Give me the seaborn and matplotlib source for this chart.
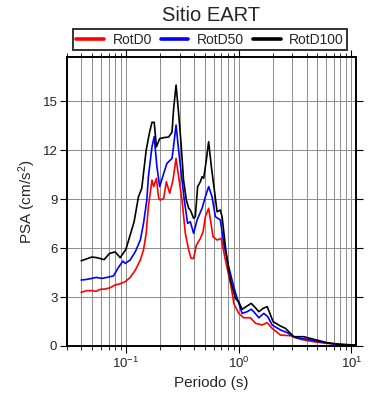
import matplotlib
matplotlib.use("Agg")
import matplotlib.pyplot as plt
import matplotlib.ticker as mticker
from matplotlib.lines import Line2D
import seaborn as sns
import pandas as pd

# ---- data ----
series_names = ["RotD0", "RotD50", "RotD100"]
series_colors = ["#ff0000", "#0000ff", "#000000"]

period_d0 = [0.040, 0.0449, 0.0498, 0.0543, 0.0590, 0.0653, 0.0724, 0.0802, 0.0875, 0.0984,
             0.109, 0.121, 0.134, 0.143, 0.151, 0.158, 0.170, 0.176, 0.186, 0.195,
             0.201, 0.216, 0.228, 0.244, 0.261, 0.278, 0.293, 0.314, 0.336, 0.360,
             0.378, 0.398, 0.421, 0.457, 0.483, 0.506, 0.541, 0.592, 0.643, 0.698,
             0.762, 0.844, 0.892, 0.903, 1.0, 1.107, 1.27, 1.41, 1.61, 1.79,
             1.98, 2.35, 2.88, 3.53, 4.64, 6.53, 10.9]
rotd0 = [3.29, 3.39, 3.39, 3.35, 3.47, 3.49, 3.57, 3.74, 3.80, 3.94,
         4.20, 4.65, 5.27, 5.88, 6.90, 8.53, 10.16, 9.76, 10.27, 9.04,
         8.94, 9.04, 10.06, 9.35, 10.16, 11.49, 10.37, 8.94, 6.90, 5.88,
         5.37, 5.37, 6.18, 6.59, 7.00, 7.92, 8.43, 6.69, 6.49, 6.59,
         5.27, 3.84, 2.92, 2.61, 2.00, 1.73, 1.73, 1.39, 1.29, 1.43,
         1.08, 0.67, 0.63, 0.41, 0.26, 0.14, 0.04]

period_d50 = [0.040, 0.0449, 0.0498, 0.0543, 0.0611, 0.0676, 0.0774, 0.0858, 0.0938, 0.0984,
              0.109, 0.121, 0.134, 0.143, 0.153, 0.158, 0.170, 0.178, 0.188, 0.199,
              0.216, 0.231, 0.256, 0.264, 0.278, 0.293, 0.314, 0.329, 0.352, 0.372,
              0.398, 0.427, 0.473, 0.506, 0.541, 0.580, 0.621, 0.687, 0.736, 0.815,
              0.903, 0.968, 1.072, 1.188, 1.29, 1.36, 1.51, 1.67, 1.81, 1.98,
              2.35, 2.69, 3.19, 4.06, 5.32, 7.50, 10.9]
rotd50 = [4.04, 4.08, 4.14, 4.20, 4.14, 4.20, 4.29, 4.82, 5.20, 5.06,
          5.27, 5.78, 6.49, 7.51, 8.94, 10.37, 12.20, 12.82, 10.98, 9.76,
          10.57, 11.19, 11.49, 12.20, 13.53, 12.00, 10.16, 8.94, 7.51, 7.61,
          6.90, 7.72, 8.43, 9.14, 9.76, 9.14, 7.92, 7.72, 6.29, 4.86,
          3.63, 2.92, 2.00, 2.10, 2.25, 2.10, 1.73, 2.00, 1.80, 1.29,
          0.98, 0.82, 0.51, 0.41, 0.24, 0.10, 0.04]

period_d100 = [0.040, 0.0498, 0.0551, 0.0640, 0.0713, 0.0802, 0.0888, 0.0998, 0.118, 0.129,
               0.138, 0.151, 0.162, 0.170, 0.178, 0.186, 0.199, 0.216, 0.239, 0.256,
               0.264, 0.278, 0.293, 0.308, 0.324, 0.343, 0.360, 0.372, 0.398, 0.412,
               0.432, 0.457, 0.473, 0.489, 0.516, 0.541, 0.572, 0.608, 0.643, 0.687,
               0.712, 0.762, 0.815, 0.844, 0.935, 1.0, 1.072, 1.188, 1.29, 1.38,
               1.51, 1.65, 1.79, 1.89, 2.02, 2.35, 2.60, 3.08, 3.78, 4.64,
               6.11, 8.02, 10.9]
rotd100 = [5.22, 5.45, 5.41, 5.29, 5.67, 5.76, 5.41, 5.92, 7.61, 9.14,
           9.66, 12.00, 13.10, 13.70, 13.70, 12.20, 12.70, 12.76, 12.80, 13.10,
           14.45, 15.98, 14.25, 12.40, 10.16, 8.94, 8.43, 8.33, 7.82, 7.92,
           9.76, 10.06, 10.37, 10.27, 11.39, 12.51, 10.98, 9.55, 8.22, 8.33,
           7.92, 6.08, 4.65, 4.04, 2.92, 2.71, 2.25, 2.45, 2.61, 2.41,
           2.10, 2.31, 2.41, 2.00, 1.49, 1.22, 1.08, 0.57, 0.57, 0.41,
           0.20, 0.10, 0.06]

x_ticks = [0.1, 1, 10]
y_ticks = [0, 3, 6, 9, 12, 15]
title = "Sitio EART"
xlabel = "Periodo (s)"
ylabel = "PSA (cm/s$^{2}$)"

# ---- long table ----
frames = []
for name, p, v in zip(series_names, [period_d0, period_d50, period_d100], [rotd0, rotd50, rotd100]):
    frames.append(pd.DataFrame({"Periodo": p, "PSA": v, "Serie": name}))
df = pd.concat(frames, ignore_index=True)

sns.set_theme(style="ticks")
plt.rcParams["font.family"] = ["Liberation Sans", "DejaVu Sans"]
plt.rcParams["mathtext.fontset"] = "custom"
plt.rcParams["mathtext.rm"] = "Liberation Sans"
plt.rcParams["mathtext.it"] = "Liberation Sans:italic"

fig = plt.figure(figsize=(3.9, 4.0), dpi=100)
ax = fig.add_axes([0.172, 0.135, 0.741, 0.7225])

sns.lineplot(data=df, x="Periodo", y="PSA", hue="Serie", hue_order=series_names,
             palette=dict(zip(series_names, series_colors)), estimator=None,
             sort=False, linewidth=1.2, legend=False, ax=ax)

ax.set_xscale("log")
ax.set_xlim(0.03, 11)
ax.set_ylim(0, 17.7)
ax.set_xticks(x_ticks)
ax.xaxis.set_minor_locator(mticker.LogLocator(base=10, subs=range(2, 10), numticks=20))
ax.xaxis.set_minor_formatter(mticker.NullFormatter())
ax.set_yticks(y_ticks)
ax.set_yticklabels([str(t) for t in y_ticks])

ax.grid(True, which="major", axis="both", color="#8c8c8c", linewidth=0.7)
ax.grid(True, which="minor", axis="x", color="#8c8c8c", linewidth=0.7)
ax.set_axisbelow(True)

for s in ax.spines.values():
    s.set_linewidth(1.4)
    s.set_color("black")

ax.tick_params(axis="both", which="major", direction="out", length=5, width=0.8,
               colors="black", labelsize=9.5, top=True, right=True, pad=2)
ax.tick_params(axis="x", which="minor", direction="out", length=3, width=0.6,
               colors="black", top=True, bottom=True)
ax.tick_params(labelcolor="#222222")

ax.set_xlabel(xlabel, fontsize=11, labelpad=4)
ax.set_ylabel(ylabel, fontsize=11, labelpad=3)
fig.text(0.54, 0.962, title, ha="center", va="center", fontsize=14.5)

handles = [Line2D([0], [0], color=c, lw=2.6) for c in series_colors]
leg = fig.legend(handles, series_names, ncol=3, mode="expand",
                 bbox_to_anchor=(0.187, 0.875, 0.703, 0.053), loc="lower left",
                 fontsize=10, frameon=True, fancybox=False, borderaxespad=0,
                 handlelength=2.0, handletextpad=0.6, columnspacing=1.0,
                 borderpad=0.25)
leg.get_frame().set_edgecolor("black")
leg.get_frame().set_linewidth(1.4)

fig.savefig("out.png", dpi=100)
